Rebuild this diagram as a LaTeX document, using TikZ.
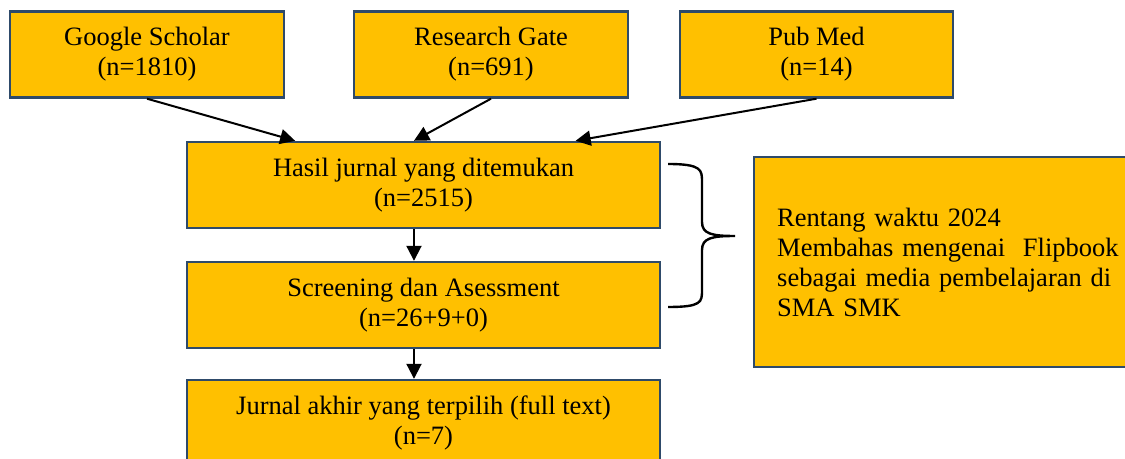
\documentclass[tikz,border=0pt]{standalone}
\usepackage{fontspec}
\setmainfont{Liberation Serif}
\usetikzlibrary{arrows.meta,calc,positioning}
\definecolor{boxfill}{HTML}{FFC000}
\definecolor{boxline}{HTML}{2E4A6A}
\tikzset{
  srcbox/.style={draw=boxline,fill=boxfill,line width=1.2pt,align=center,inner sep=0pt,
    minimum width=137pt,minimum height=43pt},
  stagebox/.style={srcbox,minimum width=236.5pt},
  notebox/.style={draw=boxline,fill=boxfill,line width=1.2pt,align=left,inner xsep=11.5pt,
    text width=185pt,minimum height=105pt,anchor=west}
}
\begin{document}
\begin{tikzpicture}[x=0.5pt,y=-0.5pt,line width=1pt,
  every node/.style={font=\fontsize{13.25}{15}\selectfont},>={Triangle[length=7.5pt,width=7.5pt]}]
\useasboundingbox(0,0)rectangle(1125,459);
\node[srcbox](gs)at(147,54.5){Google Scholar\\(n=1810)};
\node[srcbox](rg)at(491,54.5){Research Gate\\(n=691)};
\node[srcbox,minimum width=136.5pt](pm)at(816.5,54.5){Pub Med\\(n=14)};
\node[stagebox](hasil)at(423.5,185){Hasil jurnal yang ditemukan\\(n=2515)};
\node[stagebox](screen)at(423.5,305){Screening dan Asessment\\(n=26+9+0)};
\node[stagebox](akhir)at(423.5,423){Jurnal akhir yang terpilih (full text)\\(n=7)};
\node[notebox](note)at(753,262){Rentang waktu 2024\\Membahas mengenai\ \ \mbox{Flipbook}\\sebagai media pembelajaran di\\SMA SMK};
\foreach \src/\f in {gs/0.23,rg/0.48,pm/0.82}
  \draw[->](\src.south)--($(hasil.north west)!\f!(hasil.north east)$);
\foreach \x/\y in {hasil/screen,screen/akhir}
  \draw[->]($(\x.south west)!0.48!(\x.south east)$)--($(\y.north west)!0.48!(\y.north east)$);
% brace
\draw[line width=1.2pt](668,164)..controls(702,164)and(702,170)..(702,182)--(702,222)
  ..controls(702,234)and(712,236)..(735,236)
  ..controls(712,236)and(702,238)..(702,250)--(702,290)
  ..controls(702,302)and(702,307)..(668,307);
\end{tikzpicture}
\end{document}
